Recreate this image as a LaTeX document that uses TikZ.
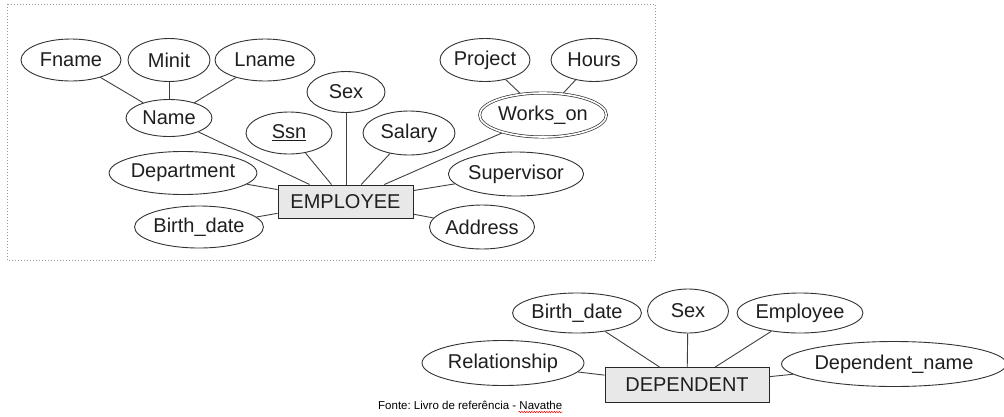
\documentclass[tikz,border=0pt]{standalone}
\usepackage{fontspec}
\setmainfont{Liberation Sans}
\usetikzlibrary{shapes.geometric,backgrounds,decorations.pathmorphing,calc}
\frenchspacing
\begin{document}
\begin{tikzpicture}[x=1pt,y=-1pt,
  attr/.style={ellipse,draw=black!80,line width=0.9pt,fill=white,inner sep=0pt,
    font=\fontsize{20}{20}\selectfont,text=black!88},
  multi/.style={attr,double=white,double distance=1.6pt,line width=0.7pt},
  ent/.style={rectangle,draw=black!85,line width=1pt,fill=black!9,inner sep=0pt,
    font=\fontsize{20}{20}\selectfont,text=black!88},
  link/.style={draw=black!75,line width=0.9pt},
  frame/.style={draw=black!40,dotted,line width=1pt}]
\useasboundingbox (0,0) rectangle (1004,416);

% EMPLOYEE
\node[ent,minimum width=135,minimum height=33] (emp) at (345.5,201.5) {EMPLOYEE};
\node[attr,minimum width=100,minimum height=42] (fname) at (71,60) {Fname};
\node[attr,minimum width=82,minimum height=43] (minit) at (169,60) {Minit};
\node[attr,minimum width=100,minimum height=42] (lname) at (265,60) {Lname};
\node[attr,minimum width=86,minimum height=37] (name) at (169,118) {Name};
\node[attr,minimum width=78,minimum height=41] (sex) at (346,92) {Sex};
\node[attr,minimum width=86,minimum height=42] (ssn) at (289,133) {\underline{Ssn}};
\node[attr,minimum width=92,minimum height=44] (salary) at (409,133) {Salary};
\node[multi,minimum width=121,minimum height=44] (works) at (543,115) {Works\_on};
\node[attr,minimum width=90,minimum height=43] (project) at (485,60) {Project};
\node[attr,minimum width=86,minimum height=43] (hours) at (594,60) {Hours};
\node[attr,minimum width=138,minimum height=43] (dept) at (183,173) {Department};
\node[attr,minimum width=120,minimum height=42] (bdate) at (199,227) {Birth\_date};
\node[attr,minimum width=128,minimum height=44] (super) at (516,174) {Supervisor};
\node[attr,minimum width=105,minimum height=44] (addr) at (482,227) {Address};

% DEPENDENT
\node[ent,minimum width=164,minimum height=35] (dep) at (687,385) {DEPENDENT};
\node[attr,minimum width=126,minimum height=40] (dbdate) at (577,313) {Birth\_date};
\node[attr,minimum width=81,minimum height=44] (dsex) at (688,311) {Sex};
\node[attr,minimum width=126,minimum height=40] (demp) at (800,313) {Employee};
\node[attr,minimum width=162,minimum height=45] (drel) at (503,363) {Relationship};
\node[attr,minimum width=203,minimum height=45] (dname) at (894,364) {Dependent\_name};

% caption
\node[inner sep=0pt,font=\fontsize{11.5}{12}\selectfont,text=black,anchor=base west] (src) at (378,409) {Fonte: Livro de refer\^encia - Navathe};
\coordinate (sqa) at ($(src.base east)+(-44,3)$);
\coordinate (sqb) at ($(src.base east)+(0,3)$);
\draw[red,line width=0.5pt,decorate,decoration={snake,amplitude=0.7pt,segment length=2.5pt}] (sqa) -- (sqb);

\begin{scope}[on background layer]
  \draw[frame] (7,4) rectangle (655,260);
  \draw[link] (fname) -- (name);
  \draw[link] (minit) -- (name);
  \draw[link] (lname) -- (name);
  \draw[link] (name) -- (emp);
  \draw[link] (ssn) -- (emp);
  \draw[link] (sex.south) -- (sex.south |- emp.north);
  \draw[link] (salary) -- (emp);
  \draw[link] (works) -- (emp);
  \draw[link] (project) -- (works);
  \draw[link] (hours) -- (works);
  \draw[link] (dept) -- (emp);
  \draw[link] (bdate) -- (emp);
  \draw[link] (super) -- (emp);
  \draw[link] (addr) -- (emp);
  \draw[link] (dbdate) -- (dep);
  \draw[link] (dsex) -- (dep);
  \draw[link] (demp) -- (dep);
  \draw[link] (drel) -- (dep);
  \draw[link] (dname) -- (dep);
\end{scope}
\end{tikzpicture}
\end{document}
